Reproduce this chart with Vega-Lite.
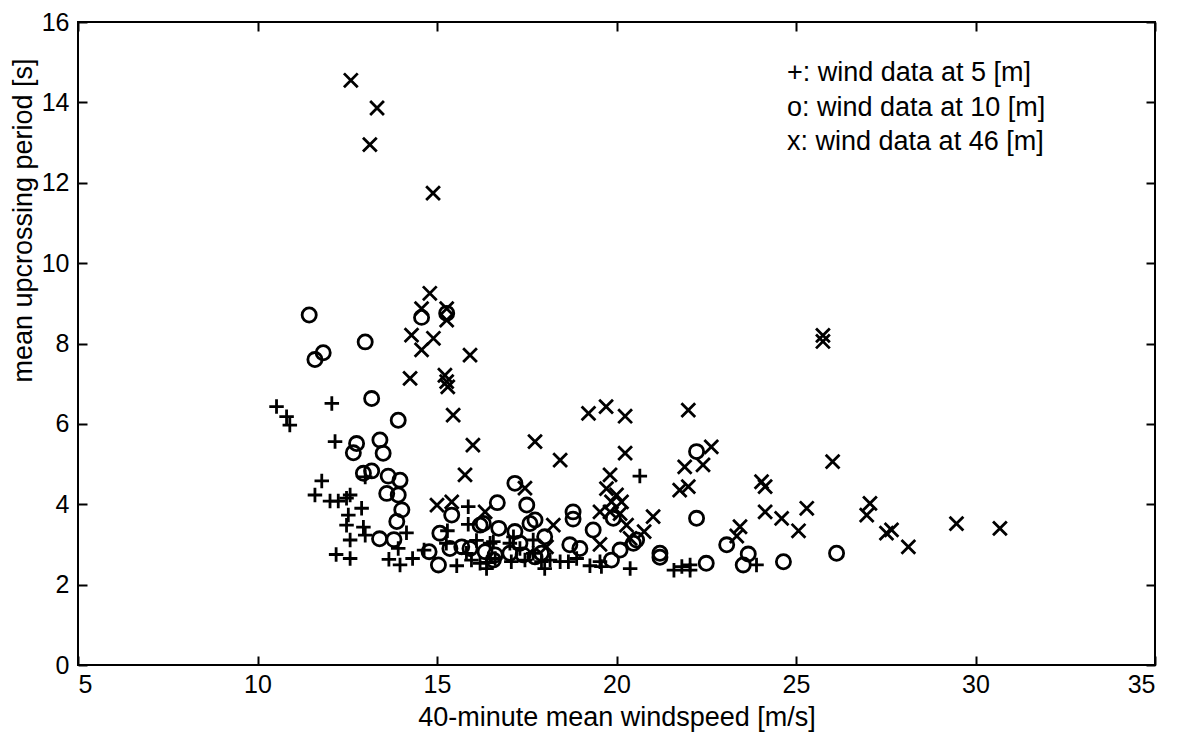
{
  "$schema": "https://vega.github.io/schema/vega-lite/v6.json",
  "width": 1077,
  "height": 643,
  "autosize": {"type": "none"},
  "padding": {"left": 78, "top": 22, "right": 22, "bottom": 85},
  "background": "white",
  "config": {
    "view": {"stroke": "black", "strokeWidth": 2},
    "font": "Liberation Sans",
    "axis": {
      "domain": false,
      "grid": false,
      "tickColor": "black",
      "tickWidth": 2,
      "tickSize": -9,
      "labelColor": "black",
      "labelFont": "Liberation Sans",
      "labelFontSize": 25,
      "titleColor": "black",
      "titleFont": "Liberation Sans",
      "titleFontSize": 27,
      "titleFontWeight": "normal"
    }
  },
  "datasets": {
    "pts": [
      {"speed": 10.53, "period": 6.43, "height": "5 m"},
      {"speed": 10.81, "period": 6.18, "height": "5 m"},
      {"speed": 10.9, "period": 5.97, "height": "5 m"},
      {"speed": 12.07, "period": 6.51, "height": "5 m"},
      {"speed": 12.16, "period": 5.56, "height": "5 m"},
      {"speed": 13.0, "period": 4.68, "height": "5 m"},
      {"speed": 11.79, "period": 4.58, "height": "5 m"},
      {"speed": 11.6, "period": 4.23, "height": "5 m"},
      {"speed": 12.02, "period": 4.08, "height": "5 m"},
      {"speed": 12.25, "period": 4.08, "height": "5 m"},
      {"speed": 12.48, "period": 4.15, "height": "5 m"},
      {"speed": 12.58, "period": 4.23, "height": "5 m"},
      {"speed": 12.9, "period": 3.9, "height": "5 m"},
      {"speed": 12.53, "period": 3.73, "height": "5 m"},
      {"speed": 12.48, "period": 3.48, "height": "5 m"},
      {"speed": 12.95, "period": 3.43, "height": "5 m"},
      {"speed": 13.0, "period": 3.23, "height": "5 m"},
      {"speed": 12.58, "period": 3.11, "height": "5 m"},
      {"speed": 14.15, "period": 3.29, "height": "5 m"},
      {"speed": 13.92, "period": 2.9, "height": "5 m"},
      {"speed": 12.19, "period": 2.75, "height": "5 m"},
      {"speed": 12.58, "period": 2.65, "height": "5 m"},
      {"speed": 13.66, "period": 2.63, "height": "5 m"},
      {"speed": 13.97, "period": 2.49, "height": "5 m"},
      {"speed": 14.32, "period": 2.65, "height": "5 m"},
      {"speed": 15.87, "period": 3.94, "height": "5 m"},
      {"speed": 15.87, "period": 3.5, "height": "5 m"},
      {"speed": 15.29, "period": 3.34, "height": "5 m"},
      {"speed": 14.64, "period": 2.86, "height": "5 m"},
      {"speed": 15.55, "period": 2.47, "height": "5 m"},
      {"speed": 16.1, "period": 3.1, "height": "5 m"},
      {"speed": 15.26, "period": 3.03, "height": "5 m"},
      {"speed": 15.82, "period": 2.78, "height": "5 m"},
      {"speed": 15.96, "period": 2.61, "height": "5 m"},
      {"speed": 16.2, "period": 2.53, "height": "5 m"},
      {"speed": 16.38, "period": 2.4, "height": "5 m"},
      {"speed": 16.62, "period": 2.65, "height": "5 m"},
      {"speed": 16.57, "period": 3.07, "height": "5 m"},
      {"speed": 16.48, "period": 3.03, "height": "5 m"},
      {"speed": 16.4, "period": 2.55, "height": "5 m"},
      {"speed": 17.07, "period": 2.57, "height": "5 m"},
      {"speed": 17.45, "period": 2.61, "height": "5 m"},
      {"speed": 17.68, "period": 2.78, "height": "5 m"},
      {"speed": 17.91, "period": 2.57, "height": "5 m"},
      {"speed": 18.15, "period": 2.61, "height": "5 m"},
      {"speed": 18.43, "period": 2.57, "height": "5 m"},
      {"speed": 18.66, "period": 2.57, "height": "5 m"},
      {"speed": 18.89, "period": 2.65, "height": "5 m"},
      {"speed": 18.0, "period": 2.4, "height": "5 m"},
      {"speed": 17.13, "period": 3.19, "height": "5 m"},
      {"speed": 17.68, "period": 3.11, "height": "5 m"},
      {"speed": 17.31, "period": 2.9, "height": "5 m"},
      {"speed": 17.03, "period": 3.03, "height": "5 m"},
      {"speed": 19.26, "period": 2.47, "height": "5 m"},
      {"speed": 19.54, "period": 2.57, "height": "5 m"},
      {"speed": 19.58, "period": 2.45, "height": "5 m"},
      {"speed": 20.38, "period": 2.4, "height": "5 m"},
      {"speed": 20.65, "period": 4.7, "height": "5 m"},
      {"speed": 21.6, "period": 2.36, "height": "5 m"},
      {"speed": 21.82, "period": 2.45, "height": "5 m"},
      {"speed": 22.05, "period": 2.49, "height": "5 m"},
      {"speed": 22.05, "period": 2.36, "height": "5 m"},
      {"speed": 23.9, "period": 2.49, "height": "5 m"},

      {"speed": 11.44, "period": 8.71, "height": "10 m"},
      {"speed": 15.27, "period": 8.75, "height": "10 m"},
      {"speed": 14.57, "period": 8.65, "height": "10 m"},
      {"speed": 13.0, "period": 8.04, "height": "10 m"},
      {"speed": 11.83, "period": 7.77, "height": "10 m"},
      {"speed": 11.6, "period": 7.6, "height": "10 m"},
      {"speed": 13.18, "period": 6.63, "height": "10 m"},
      {"speed": 13.92, "period": 6.09, "height": "10 m"},
      {"speed": 12.76, "period": 5.51, "height": "10 m"},
      {"speed": 12.67, "period": 5.28, "height": "10 m"},
      {"speed": 13.41, "period": 5.6, "height": "10 m"},
      {"speed": 13.5, "period": 5.27, "height": "10 m"},
      {"speed": 12.95, "period": 4.77, "height": "10 m"},
      {"speed": 13.18, "period": 4.83, "height": "10 m"},
      {"speed": 13.64, "period": 4.7, "height": "10 m"},
      {"speed": 13.97, "period": 4.6, "height": "10 m"},
      {"speed": 13.6, "period": 4.27, "height": "10 m"},
      {"speed": 13.92, "period": 4.23, "height": "10 m"},
      {"speed": 14.02, "period": 3.86, "height": "10 m"},
      {"speed": 13.88, "period": 3.57, "height": "10 m"},
      {"speed": 13.4, "period": 3.14, "height": "10 m"},
      {"speed": 13.8, "period": 3.12, "height": "10 m"},
      {"speed": 15.41, "period": 3.73, "height": "10 m"},
      {"speed": 16.2, "period": 3.48, "height": "10 m"},
      {"speed": 16.68, "period": 4.04, "height": "10 m"},
      {"speed": 15.08, "period": 3.28, "height": "10 m"},
      {"speed": 14.78, "period": 2.82, "height": "10 m"},
      {"speed": 15.04, "period": 2.49, "height": "10 m"},
      {"speed": 15.36, "period": 2.9, "height": "10 m"},
      {"speed": 16.72, "period": 3.4, "height": "10 m"},
      {"speed": 15.69, "period": 2.94, "height": "10 m"},
      {"speed": 15.92, "period": 2.9, "height": "10 m"},
      {"speed": 16.34, "period": 2.82, "height": "10 m"},
      {"speed": 16.62, "period": 2.74, "height": "10 m"},
      {"speed": 16.29, "period": 3.52, "height": "10 m"},
      {"speed": 17.17, "period": 3.32, "height": "10 m"},
      {"speed": 17.59, "period": 3.52, "height": "10 m"},
      {"speed": 17.73, "period": 3.61, "height": "10 m"},
      {"speed": 17.5, "period": 3.98, "height": "10 m"},
      {"speed": 17.17, "period": 4.52, "height": "10 m"},
      {"speed": 18.0, "period": 3.19, "height": "10 m"},
      {"speed": 17.31, "period": 3.03, "height": "10 m"},
      {"speed": 17.03, "period": 2.78, "height": "10 m"},
      {"speed": 17.4, "period": 2.74, "height": "10 m"},
      {"speed": 17.73, "period": 2.69, "height": "10 m"},
      {"speed": 17.91, "period": 2.78, "height": "10 m"},
      {"speed": 16.57, "period": 2.61, "height": "10 m"},
      {"speed": 18.79, "period": 3.81, "height": "10 m"},
      {"speed": 18.79, "period": 3.63, "height": "10 m"},
      {"speed": 19.35, "period": 3.36, "height": "10 m"},
      {"speed": 18.7, "period": 2.99, "height": "10 m"},
      {"speed": 18.98, "period": 2.9, "height": "10 m"},
      {"speed": 19.86, "period": 2.61, "height": "10 m"},
      {"speed": 20.1, "period": 2.86, "height": "10 m"},
      {"speed": 20.47, "period": 3.03, "height": "10 m"},
      {"speed": 20.56, "period": 3.11, "height": "10 m"},
      {"speed": 21.21, "period": 2.78, "height": "10 m"},
      {"speed": 21.21, "period": 2.68, "height": "10 m"},
      {"speed": 19.91, "period": 3.65, "height": "10 m"},
      {"speed": 22.23, "period": 5.31, "height": "10 m"},
      {"speed": 22.23, "period": 3.65, "height": "10 m"},
      {"speed": 22.5, "period": 2.53, "height": "10 m"},
      {"speed": 23.07, "period": 2.99, "height": "10 m"},
      {"speed": 23.67, "period": 2.76, "height": "10 m"},
      {"speed": 23.53, "period": 2.49, "height": "10 m"},
      {"speed": 24.65, "period": 2.57, "height": "10 m"},
      {"speed": 26.13, "period": 2.78, "height": "10 m"},

      {"speed": 12.6, "period": 14.55, "height": "46 m"},
      {"speed": 13.33, "period": 13.86, "height": "46 m"},
      {"speed": 13.13, "period": 12.95, "height": "46 m"},
      {"speed": 14.89, "period": 11.74, "height": "46 m"},
      {"speed": 14.8, "period": 9.25, "height": "46 m"},
      {"speed": 14.57, "period": 8.87, "height": "46 m"},
      {"speed": 15.27, "period": 8.87, "height": "46 m"},
      {"speed": 15.27, "period": 8.58, "height": "46 m"},
      {"speed": 14.29, "period": 8.21, "height": "46 m"},
      {"speed": 14.9, "period": 8.13, "height": "46 m"},
      {"speed": 14.57, "period": 7.84, "height": "46 m"},
      {"speed": 15.92, "period": 7.71, "height": "46 m"},
      {"speed": 14.25, "period": 7.13, "height": "46 m"},
      {"speed": 15.22, "period": 7.21, "height": "46 m"},
      {"speed": 15.27, "period": 7.05, "height": "46 m"},
      {"speed": 15.3, "period": 6.92, "height": "46 m"},
      {"speed": 15.45, "period": 6.22, "height": "46 m"},
      {"speed": 16.0, "period": 5.47, "height": "46 m"},
      {"speed": 15.78, "period": 4.73, "height": "46 m"},
      {"speed": 15.0, "period": 3.98, "height": "46 m"},
      {"speed": 15.41, "period": 4.06, "height": "46 m"},
      {"speed": 16.34, "period": 3.81, "height": "46 m"},
      {"speed": 17.45, "period": 4.4, "height": "46 m"},
      {"speed": 17.73, "period": 5.56, "height": "46 m"},
      {"speed": 18.43, "period": 5.1, "height": "46 m"},
      {"speed": 19.22, "period": 6.26, "height": "46 m"},
      {"speed": 19.71, "period": 6.43, "height": "46 m"},
      {"speed": 20.24, "period": 6.19, "height": "46 m"},
      {"speed": 22.0, "period": 6.34, "height": "46 m"},
      {"speed": 20.24, "period": 5.27, "height": "46 m"},
      {"speed": 22.64, "period": 5.43, "height": "46 m"},
      {"speed": 21.9, "period": 4.93, "height": "46 m"},
      {"speed": 22.41, "period": 4.98, "height": "46 m"},
      {"speed": 21.76, "period": 4.35, "height": "46 m"},
      {"speed": 22.0, "period": 4.44, "height": "46 m"},
      {"speed": 19.82, "period": 4.73, "height": "46 m"},
      {"speed": 19.72, "period": 4.39, "height": "46 m"},
      {"speed": 20.0, "period": 4.23, "height": "46 m"},
      {"speed": 20.14, "period": 4.06, "height": "46 m"},
      {"speed": 19.86, "period": 4.06, "height": "46 m"},
      {"speed": 19.54, "period": 3.81, "height": "46 m"},
      {"speed": 19.82, "period": 3.81, "height": "46 m"},
      {"speed": 20.1, "period": 3.77, "height": "46 m"},
      {"speed": 20.28, "period": 3.48, "height": "46 m"},
      {"speed": 19.54, "period": 3.0, "height": "46 m"},
      {"speed": 21.02, "period": 3.69, "height": "46 m"},
      {"speed": 20.77, "period": 3.32, "height": "46 m"},
      {"speed": 20.38, "period": 3.15, "height": "46 m"},
      {"speed": 18.24, "period": 3.48, "height": "46 m"},
      {"speed": 18.05, "period": 2.94, "height": "46 m"},
      {"speed": 24.04, "period": 4.56, "height": "46 m"},
      {"speed": 24.14, "period": 4.44, "height": "46 m"},
      {"speed": 24.14, "period": 3.81, "height": "46 m"},
      {"speed": 24.6, "period": 3.65, "height": "46 m"},
      {"speed": 25.3, "period": 3.9, "height": "46 m"},
      {"speed": 25.07, "period": 3.34, "height": "46 m"},
      {"speed": 23.44, "period": 3.44, "height": "46 m"},
      {"speed": 23.35, "period": 3.21, "height": "46 m"},
      {"speed": 26.02, "period": 5.06, "height": "46 m"},
      {"speed": 27.06, "period": 4.02, "height": "46 m"},
      {"speed": 26.97, "period": 3.73, "height": "46 m"},
      {"speed": 27.66, "period": 3.36, "height": "46 m"},
      {"speed": 27.52, "period": 3.28, "height": "46 m"},
      {"speed": 28.13, "period": 2.94, "height": "46 m"},
      {"speed": 29.47, "period": 3.52, "height": "46 m"},
      {"speed": 30.68, "period": 3.4, "height": "46 m"},
      {"speed": 25.75, "period": 8.2, "height": "46 m"},
      {"speed": 25.75, "period": 8.05, "height": "46 m"}
    ],
    "notes": [
      {"lx": 24.75, "ly": 14.73, "label": "+: wind data at 5 [m]"},
      {"lx": 24.75, "ly": 13.86, "label": "o: wind data at 10 [m]"},
      {"lx": 24.75, "ly": 13.01, "label": "x: wind data at 46 [m]"}
    ]
  },
  "layer": [
    {
      "data": {"name": "pts"},
      "mark": {"type": "point", "filled": false, "strokeWidth": 2.8, "color": "black", "opacity": 1},
      "encoding": {
        "x": {
          "field": "speed", "type": "quantitative",
          "scale": {"domain": [5, 35], "nice": false, "zero": false},
          "axis": {"orient": "bottom", "values": [5, 10, 15, 20, 25, 30, 35], "labelPadding": 16, "title": "40-minute mean windspeed [m/s]", "titleY": 39, "titleBaseline": "top"}
        },
        "y": {
          "field": "period", "type": "quantitative",
          "scale": {"domain": [0, 16], "nice": false, "zero": false},
          "axis": {"orient": "left", "values": [0, 2, 4, 6, 8, 10, 12, 14, 16], "labelPadding": 18, "title": "mean upcrossing period [s]", "titleX": -41, "titleY": 198}
        },
        "shape": {
          "field": "height", "type": "nominal",
          "scale": {"domain": ["5 m", "10 m", "46 m"], "range": ["M-1,0L1,0M0,-1L0,1", "circle", "M-1,-1L1,1M-1,1L1,-1"]},
          "legend": null
        },
        "size": {
          "field": "height", "type": "nominal",
          "scale": {"domain": ["5 m", "10 m", "46 m"], "range": [210, 190, 270]},
          "legend": null
        }
      }
    },
    {
      "data": {"name": "notes"},
      "mark": {"type": "text", "align": "left", "baseline": "middle", "fontSize": 27, "font": "Liberation Sans", "color": "black"},
      "encoding": {
        "x": {"field": "lx", "type": "quantitative", "axis": {"orient": "top", "values": [5, 10, 15, 20, 25, 30, 35], "labels": false, "title": null}},
        "y": {"field": "ly", "type": "quantitative", "axis": {"orient": "right", "values": [0, 2, 4, 6, 8, 10, 12, 14, 16], "labels": false, "title": null}},
        "text": {"field": "label"}
      }
    }
  ],
  "resolve": {"axis": {"x": "independent", "y": "independent"}}
}
